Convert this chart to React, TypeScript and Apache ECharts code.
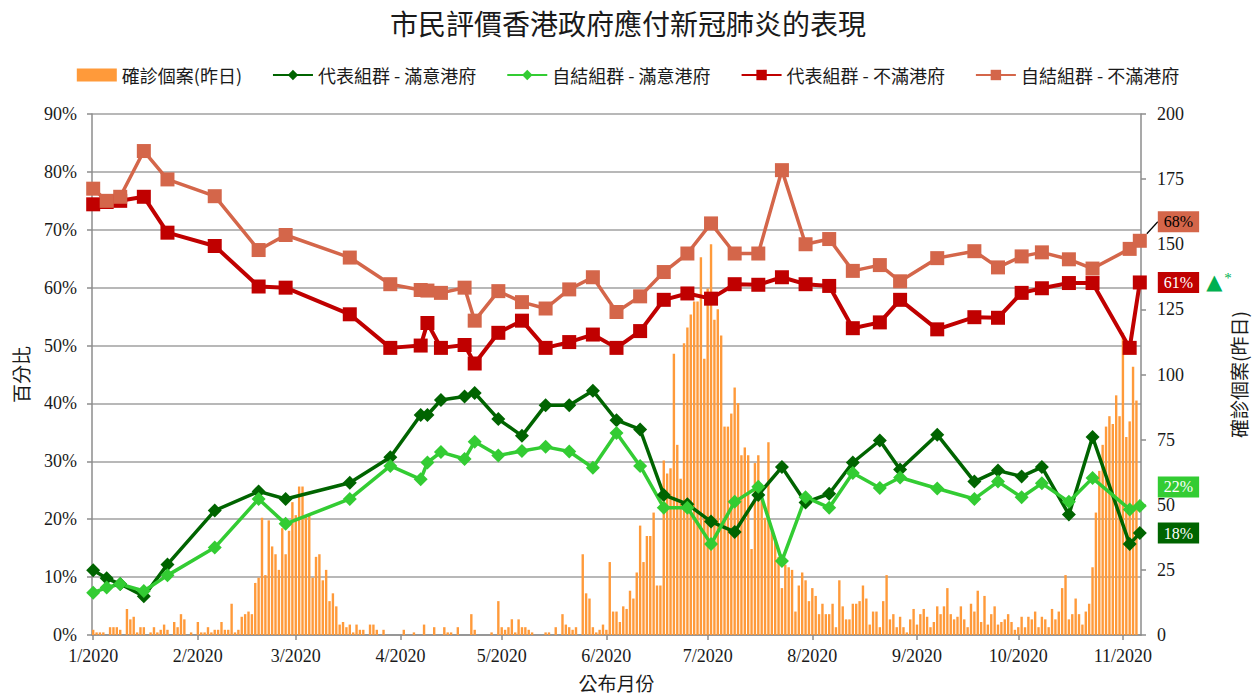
import React, { useEffect, useRef } from 'react';
import * as echarts from 'echarts';

// ---------- texts ----------
const titleText = '市民評價香港政府應付新冠肺炎的表現';
const seriesNames = ['確診個案(昨日)', '代表組群 - 滿意港府', '自結組群 - 滿意港府', '代表組群 - 不滿港府', '自結組群 - 不滿港府'];
const pctAxisName = '百分比';
const casesAxisName = '確診個案(昨日)';
const monthAxisName = '公布月份';

// ---------- axes ----------
const pctMin = 0;
const pctMax = 90;
const pctStep = 10;
const casesMin = 0;
const casesMax = 200;
const casesStep = 25;
const axisStart = '2020-01-01';
const axisEnd = '2020-11-06';

// ---------- daily confirmed cases (bars), one value per day from 2020-01-01 ----------
const janCases = [2, 1, 1, 1, 0, 3, 3, 3, 2, 0, 10, 6, 7, 1, 3, 3, 0, 1, 3, 1, 2, 4, 2, 0, 5, 3, 8, 6, 0, 1, 0];
const febCases = [5, 1, 1, 3, 1, 2, 2, 5, 2, 2, 12, 1, 2, 7, 8, 9, 8, 20, 22, 45, 23, 44, 34, 31, 25, 41, 31, 40, 51];
const marCases = [46, 57, 57, 46, 46, 22, 30, 31, 21, 25, 13, 16, 11, 4, 5, 3, 4, 1, 4, 2, 2, 0, 4, 4, 2, 0, 2, 0, 0, 0, 0];
const aprCases = [0, 2, 0, 0, 1, 0, 0, 4, 0, 0, 3, 0, 0, 3, 1, 1, 0, 3, 0, 0, 0, 8, 2, 0, 0, 0, 0, 1, 0, 13];
const mayCases = [3, 2, 3, 6, 1, 6, 3, 3, 2, 1, 0, 0, 0, 1, 1, 0, 3, 0, 8, 4, 3, 2, 3, 0, 31, 16, 14, 3, 1, 2, 4];
const junCases = [2, 28, 9, 9, 5, 11, 10, 17, 14, 24, 42, 28, 38, 38, 47, 19, 19, 67, 62, 64, 108, 73, 60, 112, 118, 123, 128, 128, 145, 106];
const julCases = [133, 150, 121, 125, 115, 80, 80, 85, 95, 89, 69, 72, 69, 33, 66, 69, 52, 45, 74, 40, 36, 30, 18, 27, 26, 25, 9, 19, 24, 21, 13];
const augCases = [18, 15, 8, 12, 8, 8, 12, 3, 21, 11, 6, 6, 12, 12, 13, 19, 14, 4, 9, 9, 3, 13, 23, 6, 8, 3, 7, 3, 1, 6, 10];
const sepCases = [4, 8, 10, 7, 3, 5, 11, 8, 11, 18, 8, 6, 7, 11, 6, 3, 12, 9, 17, 5, 15, 4, 8, 11, 4, 5, 6, 8, 5, 2];
const octCases = [3, 7, 3, 7, 6, 9, 3, 7, 6, 3, 10, 6, 9, 18, 23, 6, 8, 14, 8, 4, 9, 12, 26, 47, 63, 73, 80, 84, 81, 92, 84];
const novCases = [116, 76, 82, 103, 90];

// ---------- survey results (%) ----------
const surveyDates = [
  '2020-01-01', '2020-01-05', '2020-01-09', '2020-01-16', '2020-01-23', '2020-02-06', '2020-02-19', '2020-02-27',
  '2020-03-17', '2020-03-29', '2020-04-07', '2020-04-09', '2020-04-13', '2020-04-20', '2020-04-23', '2020-04-30',
  '2020-05-07', '2020-05-14', '2020-05-21', '2020-05-28', '2020-06-04', '2020-06-11', '2020-06-18', '2020-06-25',
  '2020-07-02', '2020-07-09', '2020-07-16', '2020-07-23', '2020-07-30', '2020-08-06', '2020-08-13', '2020-08-21',
  '2020-08-27', '2020-09-07', '2020-09-18', '2020-09-25', '2020-10-02', '2020-10-08', '2020-10-16', '2020-10-23',
  '2020-11-03', '2020-11-06',
];
const repSatisfied = [11.2, 9.8, 8.8, 6.7, 12.2, 21.5, 24.8, 23.5, 26.3, 30.7, 38.0, 38.0, 40.6, 41.2, 41.8, 37.3, 34.4, 39.7, 39.7, 42.2, 37.1, 35.5, 24.2, 22.6, 19.6, 17.8, 24.2, 29.0, 22.9, 24.4, 29.8, 33.6, 28.6, 34.6, 26.5, 28.4, 27.4, 29.0, 20.8, 34.2, 15.7, 17.6];
const selfSatisfied = [7.3, 8.2, 8.8, 7.6, 10.3, 15.1, 23.5, 19.2, 23.5, 29.2, 26.9, 29.8, 31.6, 30.4, 33.4, 31.0, 31.8, 32.5, 31.7, 28.9, 34.9, 29.2, 22.0, 22.0, 15.7, 23.0, 25.6, 12.8, 23.8, 22.0, 28.0, 25.4, 27.2, 25.3, 23.5, 26.5, 23.8, 26.2, 23.0, 27.1, 21.7, 22.3];
const repDissatisfied = [74.4, 74.8, 75.0, 75.7, 69.5, 67.2, 60.2, 60.0, 55.4, 49.6, 50.0, 53.9, 49.6, 50.1, 46.9, 52.2, 54.3, 49.6, 50.6, 51.9, 49.6, 52.5, 57.9, 59.0, 58.1, 60.6, 60.5, 61.8, 60.6, 60.3, 53.0, 54.0, 57.9, 52.8, 54.9, 54.8, 59.1, 59.9, 60.8, 60.8, 49.6, 60.9];
const selfDissatisfied = [77.1, 75.0, 75.7, 83.6, 78.7, 75.8, 66.5, 69.1, 65.2, 60.6, 59.6, 59.5, 59.1, 60.0, 54.3, 59.4, 57.5, 56.4, 59.7, 61.8, 55.8, 58.5, 62.7, 65.9, 71.1, 65.9, 65.9, 80.3, 67.5, 68.4, 62.9, 63.9, 61.1, 65.1, 66.3, 63.5, 65.4, 66.1, 64.9, 63.3, 66.7, 68.1];

// ---------- colours ----------
const cBar = '#ff9a3a';
const cRepSat = '#006400';
const cSelfSat = '#33cc33';
const cRepDis = '#c00000';
const cSelfDis = '#d4664a';
const cGrid = '#a0a0a0';
const cAxis = '#8c8c8c';
const cText = '#1a1a1a';
const serif = "'Liberation Serif', 'Times New Roman', serif";
const cjk = "'Noto Sans CJK TC', 'Noto Sans CJK SC', sans-serif";

const toTs = (s: string) => {
  const [y, m, d] = s.split('-').map(Number);
  return new Date(y, m - 1, d).getTime();
};

function buildOption() {
  const dailyCases = [
    ...janCases, ...febCases, ...marCases, ...aprCases, ...mayCases, ...junCases,
    ...julCases, ...augCases, ...sepCases, ...octCases, ...novCases,
  ];
  const [sy, sm, sd] = axisStart.split('-').map(Number);
  const caseData = dailyCases.map((v, i) => [new Date(sy, sm - 1, sd + i).getTime(), v]);

  const endBox = (bg: string, fg: string) => ({
    show: true,
    position: 'right',
    distance: 11,
    formatter: (p: any) => `${Math.round(p.value[1])}%`,
    backgroundColor: bg,
    color: fg,
    fontFamily: serif,
    fontSize: 16,
    padding: [3, 6, 2, 6],
  });

  const lineData = (vals: number[], label: any) =>
    vals.map((v, i) => {
      const pt = [toTs(surveyDates[i]), v];
      return i === vals.length - 1 ? { value: pt, label } : pt;
    });

  const repDisLabel = {
    show: true,
    position: 'right',
    distance: 11,
    formatter: (p: any) => `{a|${Math.round(p.value[1])}%}{g|}{t|▲}{s|*}`,
    rich: {
      a: { backgroundColor: cRepDis, color: '#fff', fontFamily: serif, fontSize: 16, padding: [3, 6, 2, 6] },
      g: { width: 7 },
      t: { color: '#00b050', fontSize: 21, fontFamily: "'DejaVu Sans', sans-serif" },
      s: { color: '#00b050', fontSize: 15, fontFamily: serif, verticalAlign: 'top', padding: [0, 0, 8, 2] },
    },
  };

  const lineBase = (color: string, symbol: string, size: number, width: number) => ({
    type: 'line',
    yAxisIndex: 0,
    symbol,
    symbolSize: size,
    showSymbol: true,
    lineStyle: { color, width },
    itemStyle: { color },
    z: 3,
  });

  return {
    animation: false,
    backgroundColor: '#fff',
    title: {
      text: titleText,
      left: 'center',
      top: 4,
      textStyle: { fontFamily: cjk, fontSize: 28, fontWeight: 'normal', color: cText },
    },
    legend: {
      data: [
        { name: seriesNames[0], icon: 'rect' },
        seriesNames[1], seriesNames[2], seriesNames[3], seriesNames[4],
      ],
      left: 'center',
      top: 61,
      itemWidth: 40,
      itemHeight: 13,
      itemGap: 30,
      textStyle: { fontFamily: cjk, fontSize: 18, color: cText },
    },
    grid: { left: 92, right: 111, top: 114, bottom: 59, containLabel: false },
    xAxis: {
      type: 'time',
      min: toTs(axisStart),
      max: toTs(axisEnd),
      splitNumber: 11,
      name: monthAxisName,
      nameLocation: 'middle',
      nameGap: 38,
      nameTextStyle: { fontFamily: cjk, fontSize: 19, color: cText },
      axisLine: { show: true, lineStyle: { color: cAxis, width: 1.5 } },
      axisTick: { show: true, length: 5, lineStyle: { color: cAxis, width: 1.5 } },
      splitLine: { show: false },
      axisLabel: {
        margin: 12,
        fontFamily: serif,
        fontSize: 18,
        color: cText,
        hideOverlap: false,
        formatter: (val: number) => {
          const d = new Date(val);
          return `${d.getMonth() + 1}/${d.getFullYear()}`;
        },
      },
    },
    yAxis: [
      {
        type: 'value',
        position: 'left',
        min: pctMin,
        max: pctMax,
        interval: pctStep,
        name: pctAxisName,
        nameLocation: 'middle',
        nameGap: 62,
        nameRotate: 90,
        nameTextStyle: { fontFamily: cjk, fontSize: 19, color: cText },
        axisLine: { show: true, lineStyle: { color: cAxis, width: 1.5 } },
        axisTick: { show: true, length: 5, lineStyle: { color: cAxis, width: 1.5 } },
        splitLine: { show: true, lineStyle: { color: cGrid, width: 1.5 } },
        axisLabel: { margin: 15, fontFamily: serif, fontSize: 18, color: cText, formatter: '{value}%' },
      },
      {
        type: 'value',
        position: 'right',
        min: casesMin,
        max: casesMax,
        interval: casesStep,
        name: casesAxisName,
        nameLocation: 'middle',
        nameGap: 88,
        nameRotate: 90,
        nameTextStyle: { fontFamily: cjk, fontSize: 19, color: cText },
        axisLine: { show: true, lineStyle: { color: cAxis, width: 1.5 } },
        axisTick: { show: true, length: 5, lineStyle: { color: cAxis, width: 1.5 } },
        splitLine: { show: false },
        axisLabel: { margin: 16, fontFamily: serif, fontSize: 18, color: cText },
      },
    ],
    series: [
      {
        name: seriesNames[0],
        type: 'bar',
        yAxisIndex: 1,
        data: caseData,
        barWidth: 2.4,
        itemStyle: { color: cBar },
        z: 1,
      },
      {
        name: seriesNames[1],
        ...lineBase(cRepSat, 'diamond', 14, 3.5),
        data: lineData(repSatisfied, endBox(cRepSat, '#fff')),
      },
      {
        name: seriesNames[2],
        ...lineBase(cSelfSat, 'diamond', 14, 3.5),
        data: lineData(selfSatisfied, endBox(cSelfSat, '#fff')),
        labelLayout: { dy: -19 },
      },
      {
        name: seriesNames[3],
        ...lineBase(cRepDis, 'rect', 14, 4),
        data: lineData(repDissatisfied, repDisLabel),
      },
      {
        name: seriesNames[4],
        ...lineBase(cSelfDis, 'rect', 14, 3.5),
        data: lineData(selfDissatisfied, endBox(cSelfDis, '#000')),
        labelLayout: { dy: -19 },
        labelLine: { show: true, lineStyle: { color: '#000', width: 1.2 } },
      },
    ],
  };
}

export default function App() {
  const ref = useRef<HTMLDivElement>(null);
  useEffect(() => {
    if (!ref.current) return;
    const chart = echarts.init(ref.current, null, { renderer: 'svg' });
    chart.setOption(buildOption() as any);
    return () => chart.dispose();
  }, []);
  return (
    <div
      ref={ref}
      style={{ position: 'fixed', left: 0, top: 0, width: 1256, height: 697, background: '#fff' }}
    />
  );
}
